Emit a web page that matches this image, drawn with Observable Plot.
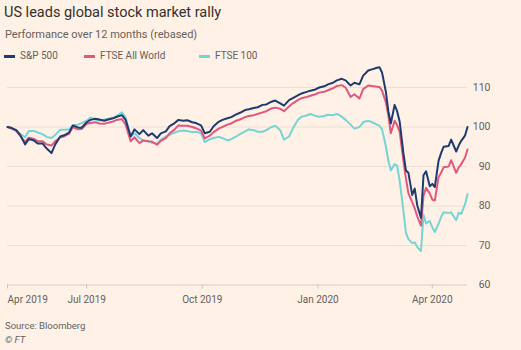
<!DOCTYPE html>
<html><head><meta charset="utf-8">
<script src="https://cdn.jsdelivr.net/npm/d3@7"></script>
<script src="https://cdn.jsdelivr.net/npm/@observablehq/plot@0.6"></script>
<style>
html,body{margin:0;padding:0;background:#fff1e5;}
#wrap{position:relative;width:521px;height:350px;font-family:Roboto,sans-serif;overflow:hidden;background:#fff1e5;}
.abs{position:absolute;white-space:nowrap;}
#title{left:4px;top:6px;font-size:14.5px;line-height:14.5px;color:#33302e;}
#subtitle{left:5px;top:28.5px;font-size:11px;line-height:11px;color:#66605c;}
.leg{top:51px;font-size:10px;line-height:10px;color:#66605c;}
.sw{position:absolute;top:4px;height:2.5px;width:11px;}
#chart{left:0;top:62px;}
#source{left:5px;top:320.5px;font-size:9.5px;line-height:9.5px;color:#66605c;}
#ft{left:5px;top:335px;font-size:9.5px;line-height:9.5px;color:#66605c;font-style:italic;}
</style>
</head><body>
<div id="wrap">
  <div id="title" class="abs">US leads global stock market rally</div>
  <div id="subtitle" class="abs">Performance over 12 months (rebased)</div>
  <div id="legend"></div>
  <div id="chart" class="abs"></div>
  <div id="source" class="abs">Source: Bloomberg</div>
  <div id="ft" class="abs">© FT</div>
</div>
<script>
const dates = [
"2019-04-29","2019-05-02","2019-05-06","2019-05-09","2019-05-13","2019-05-16","2019-05-20","2019-05-23","2019-05-27","2019-05-30",
"2019-06-03","2019-06-06","2019-06-10","2019-06-13","2019-06-17","2019-06-20","2019-06-24","2019-06-27","2019-07-01","2019-07-04",
"2019-07-08","2019-07-11","2019-07-15","2019-07-18","2019-07-22","2019-07-25","2019-07-29","2019-08-01","2019-08-05","2019-08-08",
"2019-08-12","2019-08-15","2019-08-19","2019-08-22","2019-08-26","2019-08-29","2019-09-02","2019-09-05","2019-09-09","2019-09-12",
"2019-09-16","2019-09-19","2019-09-23","2019-09-26","2019-09-30","2019-10-03","2019-10-07","2019-10-10","2019-10-14","2019-10-17",
"2019-10-21","2019-10-24","2019-10-28","2019-10-31","2019-11-04","2019-11-07","2019-11-11","2019-11-14","2019-11-18","2019-11-21",
"2019-11-25","2019-11-28","2019-12-02","2019-12-05","2019-12-09","2019-12-12","2019-12-16","2019-12-19","2019-12-23","2019-12-26",
"2019-12-30","2020-01-02","2020-01-06","2020-01-09","2020-01-13","2020-01-16","2020-01-20","2020-01-23","2020-01-27","2020-01-30",
"2020-02-03","2020-02-06","2020-02-10","2020-02-13","2020-02-17","2020-02-19","2020-02-21","2020-02-24","2020-02-26","2020-02-28",
"2020-03-02","2020-03-04","2020-03-06","2020-03-09","2020-03-11","2020-03-13","2020-03-16","2020-03-18","2020-03-20","2020-03-23",
"2020-03-25","2020-03-27","2020-03-30","2020-04-01","2020-04-03","2020-04-06","2020-04-08","2020-04-10","2020-04-14","2020-04-16",
"2020-04-20","2020-04-22","2020-04-24","2020-04-27","2020-04-29"];

const sp500 = [
100, 99.8, 99.2, 98.0, 95.6, 97.0, 96.6, 95.8, 95.8, 94.6,
93.4, 95.6, 97.6, 97.9, 98.6, 100.4, 99.9, 99.8, 101.2, 101.8,
102.1, 101.9, 101.6, 101.9, 102.2, 102.6, 103.0, 101.8, 97.6, 99.4,
98.2, 99.2, 97.8, 98.4, 97.2, 98.4, 98.9, 100.2, 101.0, 101.8,
101.6, 101.7, 101.2, 101.0, 100.4, 98.4, 98.8, 100.2, 101.3, 101.8,
102.2, 102.5, 103.2, 103.6, 104.3, 104.5, 104.8, 105.0, 105.6, 105.7,
106.4, 106.7, 106.0, 105.4, 106.8, 107.3, 108.0, 108.5, 108.9, 109.2,
109.5, 110.0, 110.3, 110.8, 111.2, 111.8, 112.2, 111.8, 110.5, 111.2,
110.8, 113.0, 114.3, 114.6, 115.0, 115.1, 113.8, 109.0, 104.0, 100.9,
105.6, 104.0, 101.4, 93.4, 89.0, 88.4, 82.8, 84.4, 80.2, 77.0,
87.8, 88.8, 85.0, 85.6, 84.8, 91.5, 93.4, 95.0, 95.2, 96.8,
93.8, 95.3, 96.5, 97.8, 100.0];

const ftseAllWorld = [
100, 99.7, 99.0, 97.8, 96.2, 97.3, 97.0, 96.4, 96.4, 95.6,
95.3, 96.4, 97.4, 97.6, 98.3, 100.0, 99.4, 99.5, 100.8, 101.0,
101.2, 100.9, 100.8, 101.1, 101.4, 101.8, 102.0, 100.6, 96.4, 97.4,
95.9, 96.6, 96.4, 96.3, 95.5, 96.5, 97.2, 98.4, 99.4, 100.4,
100.3, 100.3, 100.0, 99.7, 99.1, 97.1, 97.8, 98.7, 99.6, 100.0,
100.6, 100.9, 101.6, 101.9, 102.5, 102.8, 103.0, 103.3, 103.7, 104.0,
104.7, 104.9, 104.6, 104.0, 105.2, 106.0, 106.8, 107.3, 107.6, 107.9,
108.3, 108.7, 108.9, 109.3, 109.8, 110.4, 110.6, 110.0, 107.6, 108.3,
107.2, 109.6, 110.5, 110.4, 110.2, 110.1, 109.2, 106.3, 103.0, 98.4,
101.6, 100.5, 98.8, 91.5, 87.0, 83.2, 81.0, 79.4, 77.4, 75.0,
82.6, 84.6, 83.2, 81.6, 81.4, 87.3, 88.4, 89.8, 90.0, 91.6,
88.4, 89.8, 90.6, 92.2, 94.3];

const ftse100 = [
100, 99.6, 99.0, 98.3, 97.4, 99.0, 99.0, 98.6, 98.2, 97.5,
97.2, 98.0, 99.3, 99.3, 99.4, 100.4, 100.6, 101.0, 101.6, 102.4,
101.9, 101.6, 101.9, 102.1, 102.3, 102.8, 103.7, 102.4, 97.6, 98.4,
97.2, 96.6, 96.4, 96.0, 95.8, 96.8, 97.6, 98.0, 98.6, 98.9,
99.1, 99.0, 98.7, 98.8, 98.4, 96.2, 96.9, 97.2, 97.5, 97.2,
96.6, 96.9, 97.6, 98.2, 98.9, 99.4, 99.2, 98.8, 98.8, 99.2,
100.0, 100.3, 99.2, 96.8, 97.6, 99.6, 101.8, 102.6, 102.9, 103.3,
102.8, 102.6, 102.8, 103.1, 103.0, 103.3, 102.6, 101.8, 100.6, 99.6,
100.0, 101.2, 101.6, 101.2, 100.6, 100.3, 99.4, 95.2, 91.5, 89.0,
90.6, 90.2, 86.5, 78.8, 73.2, 71.6, 70.6, 70.8, 69.6, 68.6,
77.8, 75.6, 76.2, 74.6, 73.4, 75.5, 77.2, 78.4, 78.2, 78.4,
76.4, 78.3, 78.0, 80.4, 83.0];

const seriesNames = ["S&P 500", "FTSE All World", "FTSE 100"];
const seriesColors = ["#1e3b70", "#e0577f", "#74d4d6"];
const yTicks = [60, 70, 80, 90, 100, 110];
const xTickDates = ["2019-07-01", "2019-10-01", "2020-01-01", "2020-04-01"];
const xTickLabels = ["Jul 2019", "Oct 2019", "Jan 2020", "Apr 2020"];
const firstTickLabel = "Apr 2019";

// legend
const legendX = [4, 84, 199];
const legend = document.getElementById("legend");
seriesNames.forEach((name, i) => {
  const item = document.createElement("div");
  item.className = "abs leg";
  item.style.left = legendX[i] + "px";
  item.style.paddingLeft = "16px";
  const sw = document.createElement("span");
  sw.className = "sw";
  sw.style.left = "0px";
  sw.style.background = seriesColors[i];
  item.appendChild(sw);
  item.appendChild(document.createTextNode(name));
  legend.appendChild(item);
});

const valuesBySeries = [sp500, ftseAllWorld, ftse100];
const rows = [];
[2, 1, 0].forEach(s => {
  dates.forEach((d, i) => rows.push({date: new Date(d), value: valuesBySeries[s][i], series: seriesNames[s]}));
});

const startDate = new Date(dates[0]);
const endDate = new Date(dates[dates.length - 1]);
const labelByTime = new Map(xTickDates.map((d, i) => [+new Date(d), xTickLabels[i]]));

const chart = Plot.plot({
  width: 521,
  height: 250,
  marginLeft: 7,
  marginRight: 54,
  marginTop: 5.25,
  marginBottom: 27.5,
  style: {background: "transparent", fontFamily: "Roboto, sans-serif", fontSize: "10px", color: "#66605c"},
  x: {type: "utc", domain: [startDate, endDate]},
  y: {domain: [60, 115]},
  color: {domain: seriesNames, range: seriesColors},
  marks: [
    Plot.ruleY(yTicks, {stroke: d => d === 60 ? "#d8cbbf" : "#eadfd4", strokeWidth: 1}),
    Plot.axisY(yTicks, {anchor: "right", tickSize: 0, tickPadding: 3, textAnchor: "end", dx: 20, fontSize: 10.5, fill: "#66605c", label: null}),
    Plot.axisX(xTickDates.map(d => new Date(d)), {anchor: "bottom", tickSize: 4, tickPadding: 7, stroke: "#cfc3b8", fill: "#66605c", tickFormat: d => labelByTime.get(+d), label: null}),
    Plot.axisX([startDate], {anchor: "bottom", tickSize: 4, tickPadding: 7, stroke: "#cfc3b8", fill: "#66605c", textAnchor: "start", tickFormat: () => firstTickLabel, label: null}),
    Plot.line(rows, {x: "date", y: "value", z: "series", stroke: "series", strokeWidth: 2, strokeLinejoin: "round", strokeLinecap: "round"})
  ]
});
document.getElementById("chart").appendChild(chart);
</script>
</body></html>
